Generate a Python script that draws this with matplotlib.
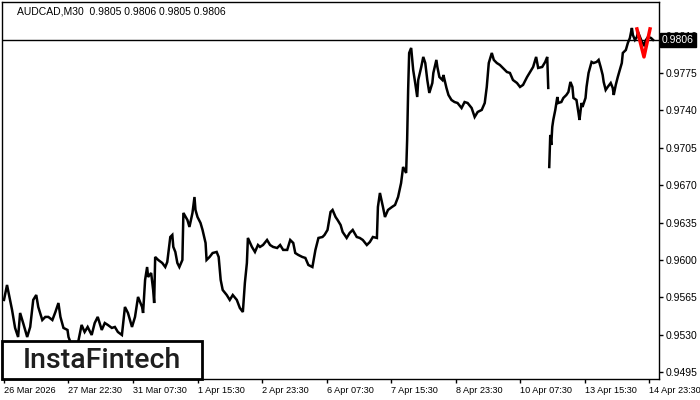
import numpy as np
import matplotlib
matplotlib.use("Agg")
import matplotlib.pyplot as plt
from matplotlib.patches import Rectangle
from matplotlib.transforms import blended_transform_factory

plt.rcParams['font.family'] = ['Liberation Sans', 'DejaVu Sans']

chart_title = "AUDCAD,M30  0.9805 0.9806 0.9805 0.9806"

# --- price series (bar index, close) before the 10 Apr weekend gap ---
bars_a = [0, 3, 8, 11, 14, 16, 19, 23, 26, 29, 32, 34, 38, 41, 44, 48, 51, 54, 56, 59,
          63, 64, 67, 71, 74, 77, 80, 83, 87, 90, 93, 97, 100, 103, 107, 110, 113, 117, 120, 123,
          127, 130, 133, 137, 138, 140, 142, 143, 146, 148, 149, 150, 153, 157, 160, 162, 165, 167, 168, 170,
          172, 174, 177, 178, 182, 184, 187, 189, 190, 192, 195, 197, 200, 201, 204, 207, 211, 213, 215, 217,
          221, 224, 227, 231, 234, 237, 239, 241, 242, 246, 249, 252, 254, 257, 261, 264, 267, 271, 274, 277,
          281, 284, 287, 289, 292, 296, 299, 302, 306, 309, 312, 316, 318, 321, 324, 326, 329, 331, 334, 336,
          340, 343, 346, 350, 353, 356, 360, 363, 366, 370, 371, 373, 376, 378, 381, 385, 388, 391, 394, 396,
          399, 400, 401, 402, 404, 406, 408, 410, 411, 414, 416, 418, 420, 422, 425, 426, 429, 430, 432, 435,
          436, 439, 441, 444, 447, 450, 454, 457, 460, 464, 467, 470, 474, 477, 479, 481, 484, 486, 489, 492,
          495, 499, 502, 505, 509, 512, 515, 519, 522, 525, 528, 530, 534, 537, 539, 540]
close_a = [0.95626, 0.95766, 0.95532, 0.95364, 0.95279, 0.95504, 0.95410, 0.95279, 0.95373, 0.95626,
           0.95672, 0.95560, 0.95438, 0.95467, 0.95467, 0.95438, 0.95513, 0.95597, 0.95467, 0.95364,
           0.95345, 0.95279, 0.95205, 0.95158, 0.95251, 0.95392, 0.95326, 0.95373, 0.95298, 0.95410,
           0.95467, 0.95345, 0.95410, 0.95392, 0.95364, 0.95373, 0.95326, 0.95298, 0.95560, 0.95504,
           0.95373, 0.95467, 0.95654, 0.95560, 0.95504, 0.95813, 0.95934, 0.95841, 0.95878, 0.95719,
           0.95597, 0.96028, 0.96000, 0.95972, 0.95934, 0.95981, 0.96215, 0.96234, 0.96122, 0.96075,
           0.95972, 0.95934, 0.96000, 0.96440, 0.96374, 0.96309, 0.96440, 0.96589, 0.96468, 0.96402,
           0.96346, 0.96281, 0.96159, 0.96000, 0.96028, 0.96065, 0.96075, 0.96028, 0.95813, 0.95719,
           0.95672, 0.95626, 0.95672, 0.95626, 0.95551, 0.95513, 0.95785, 0.95972, 0.96206, 0.96122,
           0.96075, 0.96140, 0.96122, 0.96140, 0.96187, 0.96140, 0.96122, 0.96112, 0.96140, 0.96094,
           0.96094, 0.96187, 0.96159, 0.96065, 0.96047, 0.96028, 0.96019, 0.95953, 0.95934, 0.96094,
           0.96206, 0.96215, 0.96234, 0.96281, 0.96449, 0.96468, 0.96402, 0.96374, 0.96327, 0.96262,
           0.96206, 0.96253, 0.96281, 0.96215, 0.96206, 0.96187, 0.96140, 0.96168, 0.96215, 0.96206,
           0.96496, 0.96627, 0.96496, 0.96402, 0.96468, 0.96496, 0.96515, 0.96589, 0.96720, 0.96870,
           0.96814, 0.97122, 0.97591, 0.97937, 0.97984, 0.97778, 0.97656, 0.97525, 0.97684, 0.97806,
           0.97900, 0.97843, 0.97684, 0.97563, 0.97656, 0.97750, 0.97872, 0.97806, 0.97712, 0.97684,
           0.97731, 0.97610, 0.97544, 0.97497, 0.97478, 0.97469, 0.97422, 0.97478, 0.97469, 0.97422,
           0.97338, 0.97385, 0.97404, 0.97469, 0.97619, 0.97843, 0.97937, 0.97872, 0.97843, 0.97825,
           0.97797, 0.97759, 0.97750, 0.97684, 0.97656, 0.97619, 0.97638, 0.97712, 0.97759, 0.97806,
           0.97900, 0.97797, 0.97806, 0.97853, 0.97900, 0.97610]

# --- price series after the weekend gap ---
bars_b = [541, 542, 543, 544, 545, 547, 549, 550, 553, 555, 558, 560, 562, 564, 565, 568, 570, 571, 573, 574,
          577, 578, 580, 583, 585, 588, 590, 592, 594, 595, 597, 599, 602, 604, 605, 607, 609, 611, 613, 614,
          617, 619, 621, 623, 624, 626, 628, 629, 631, 633, 635, 637, 639, 642, 644]
close_b = [0.96870, 0.97170, 0.97076, 0.97245, 0.97310, 0.97404, 0.97525, 0.97469, 0.97478, 0.97516,
           0.97544, 0.97572, 0.97666, 0.97619, 0.97516, 0.97497, 0.97376, 0.97310, 0.97469, 0.97432,
           0.97516, 0.97619, 0.97750, 0.97853, 0.97843, 0.97853, 0.97872, 0.97806, 0.97731, 0.97666,
           0.97591, 0.97619, 0.97656, 0.97610, 0.97544, 0.97638, 0.97712, 0.97778, 0.97843, 0.97937,
           0.97965, 0.98031, 0.98077, 0.98171, 0.98105, 0.98059, 0.98087, 0.98134, 0.98087, 0.98040,
           0.98012, 0.98059, 0.98087, 0.98077, 0.98059]

# --- red pattern overlay ---
pattern_bars = [628, 635, 641]
pattern_prices = [0.98162, 0.97900, 0.98162]

current_price = 0.9806
current_label = "0.9806"

y_ticks = [0.9495, 0.9530, 0.9565, 0.9600, 0.9635, 0.9670, 0.9705, 0.9740, 0.9775, 0.9810]
x_tick_bars = [0, 64, 128, 192, 256, 320, 384, 448, 512, 576, 640]
x_tick_labels = ["26 Mar 2026", "27 Mar 22:30", "31 Mar 07:30", "1 Apr 15:30", "2 Apr 23:30",
                 "6 Apr 07:30", "7 Apr 15:30", "8 Apr 23:30", "10 Apr 07:30", "13 Apr 15:30",
                 "14 Apr 23:30"]
logo_text = "InstaFintech"

W, H = 700, 400
fig = plt.figure(figsize=(7, 4), dpi=100)
ax = fig.add_axes([2 / W, 21 / H, 657 / W, 377 / H])

ax.plot(bars_a, close_a, color='black', lw=1.8, zorder=3, solid_joinstyle='miter')
ax.plot(bars_b, close_b, color='black', lw=1.8, zorder=3, solid_joinstyle='miter')
ax.axhline(current_price, color='black', lw=1, zorder=2)
ax.plot(pattern_bars, pattern_prices, color='#ff0000', lw=2.5, zorder=4)

ax.set_xlim(-1.98, 649.9)
ax.set_ylim(0.94886, 0.98414)

for s in ax.spines.values():
    s.set_color('black')
    s.set_linewidth(1)

ax.yaxis.tick_right()
ax.set_yticks(y_ticks)
ax.set_yticklabels([f"{v:.4f}" for v in y_ticks])
ax.set_xticks(x_tick_bars)
ax.set_xticklabels(x_tick_labels)
for lab in ax.get_xticklabels():
    lab.set_ha('left')
ax.tick_params(axis='y', direction='out', length=3, width=1, pad=2, labelsize=7.5, colors='black')
ax.tick_params(axis='x', direction='out', length=3, width=1, pad=2, labelsize=6.6, colors='black')

tr = blended_transform_factory(ax.transAxes, ax.transData)
ax.text(1.0 + 3 / 657, current_price, current_label, transform=tr, ha='left', va='center',
        color='white', fontsize=7.5, clip_on=False, zorder=10,
        bbox=dict(facecolor='black', edgecolor='black', boxstyle='square,pad=0.2'))

fig.text(17 / W, 1 - 12 / H, chart_title, fontsize=7.5, ha='left', va='center', color='black')

fig.add_artist(Rectangle((2 / W, 21 / H), 200 / W, 38 / H, transform=fig.transFigure,
                         facecolor='white', edgecolor='black', lw=2, zorder=10))
fig.text(102 / W, 40 / H, logo_text, fontsize=20.5, ha='center', va='center', color='#1e1e1e',
         family=['Roboto', 'DejaVu Sans'], weight='medium', zorder=11)

fig.savefig("out.png", dpi=100)
